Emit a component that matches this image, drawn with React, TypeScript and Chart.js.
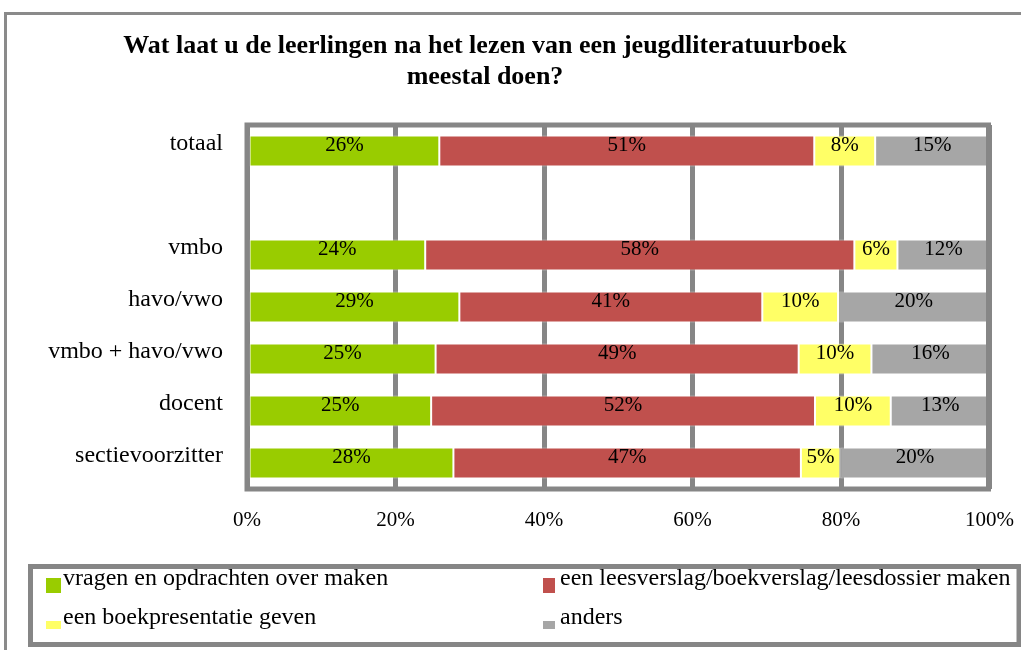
import React, { useEffect, useRef } from "react";
import { Chart, registerables } from "chart.js";

Chart.register(...registerables);

const titleLines = [
  "Wat laat u de leerlingen na het lezen van een jeugdliteratuurboek",
  "meestal doen?",
];
const categories = [
  "totaal",
  "",
  "vmbo",
  "havo/vwo",
  "vmbo + havo/vwo",
  "docent",
  "sectievoorzitter",
];
const seriesNames = [
  "vragen en opdrachten over maken",
  "een leesverslag/boekverslag/leesdossier maken",
  "een boekpresentatie geven",
  "anders",
];
const seriesColors = ["#99CC00", "#C0504D", "#FFFF66", "#A6A6A6"];
const vragen = [25.9, null, 24.0, 28.6, 25.4, 24.8, 27.8];
const leesverslag = [50.5, null, 57.8, 40.8, 48.9, 51.7, 46.8];
const boekpresentatie = [8.2, null, 5.8, 10.2, 9.8, 10.2, 5.3];
const anders = [15.4, null, 12.4, 20.4, 15.9, 13.3, 20.1];
const xTicks = [0, 20, 40, 60, 80, 100];

const FONT = "'Liberation Serif', 'Times New Roman', serif";
const GRID = "#868686";

const decorPlugin = {
  id: "decor",
  beforeDraw(chart: any) {
    const ctx = chart.ctx;
    ctx.save();
    ctx.fillStyle = "#ffffff";
    ctx.fillRect(0, 0, chart.width, chart.height);
    // outer border
    ctx.strokeStyle = "#8a8a8a";
    ctx.lineWidth = 3;
    ctx.strokeRect(5.5, 13.5, 1100, 700);
    // title
    ctx.fillStyle = "#000";
    ctx.font = `bold 26px ${FONT}`;
    ctx.textAlign = "center";
    ctx.textBaseline = "alphabetic";
    ctx.fillText(titleLines[0], 485, 53);
    ctx.fillText(titleLines[1], 485, 84);
    // legend box
    ctx.strokeStyle = GRID;
    ctx.lineWidth = 5;
    ctx.strokeRect(30.5, 566.5, 988.5, 78);
    const pos = [
      { mx: 46, my: 578, mw: 15, mh: 15, tx: 63, ty: 585 },
      { mx: 543, my: 578, mw: 12, mh: 15, tx: 560, ty: 585 },
      { mx: 46, my: 621, mw: 15, mh: 8, tx: 63, ty: 624 },
      { mx: 543, my: 621, mw: 12, mh: 8, tx: 560, ty: 624 },
    ];
    ctx.font = `24px ${FONT}`;
    ctx.textAlign = "left";
    chart.data.datasets.forEach((ds: any, i: number) => {
      const p = pos[i];
      ctx.fillStyle = ds.backgroundColor;
      ctx.fillRect(p.mx, p.my, p.mw, p.mh);
      ctx.fillStyle = "#000";
      ctx.fillText(ds.label, p.tx, p.ty);
    });
    ctx.restore();
  },
  afterDatasetsDraw(chart: any) {
    const ctx = chart.ctx;
    const a = chart.chartArea;
    ctx.save();
    ctx.strokeStyle = GRID;
    ctx.lineWidth = 5;
    ctx.strokeRect(a.left, a.top, a.right - a.left - 1, a.bottom - a.top);
    ctx.fillStyle = "#000";
    ctx.font = `21px ${FONT}`;
    ctx.textAlign = "center";
    ctx.textBaseline = "alphabetic";
    chart.data.datasets.forEach((ds: any, di: number) => {
      const meta = chart.getDatasetMeta(di);
      meta.data.forEach((el: any, i: number) => {
        const v = ds.data[i];
        if (v === null || v === undefined) return;
        const cx = (el.x + el.base) / 2;
        ctx.fillText(Math.round(v) + "%", cx, el.y - 0.5);
      });
    });
    ctx.restore();
  },
};

export default function App() {
  const ref = useRef<HTMLCanvasElement>(null);
  useEffect(() => {
    const canvas = ref.current;
    if (!canvas) return;
    const seriesData = [vragen, leesverslag, boekpresentatie, anders];
    const chart = new Chart(canvas, {
      type: "bar",
      data: {
        labels: categories,
        datasets: seriesNames.map((name, i) => ({
          label: name,
          data: seriesData[i],
          backgroundColor: seriesColors[i],
          borderColor: "rgba(255,255,255,0.55)",
          borderWidth: 1,
          borderSkipped: false,
          barPercentage: 0.6,
          categoryPercentage: 1,
        })),
      },
      options: {
        indexAxis: "y",
        responsive: false,
        animation: false,
        layout: { padding: { top: 125, right: 31.5, left: 0, bottom: 0 } },
        plugins: {
          legend: { display: false },
          title: { display: false },
          tooltip: { enabled: false },
        },
        scales: {
          x: {
            stacked: true,
            min: 0,
            max: 100,
            afterBuildTicks: (s: any) => {
              s.ticks = xTicks.map((v) => ({ value: v }));
            },
            ticks: {
              callback: (v: any) => v + "%",
              font: { family: FONT, size: 21 },
              color: "#000",
              padding: 19,
              maxRotation: 0,
              autoSkip: false,
            },
            grid: { color: GRID, lineWidth: 5, drawTicks: false },
            border: { display: false },
            afterFit: (s: any) => {
              s.height = 161;
              s.paddingLeft = 0;
              s.paddingRight = 0;
            },
          },
          y: {
            stacked: true,
            grid: { display: false, drawTicks: false },
            border: { display: false },
            ticks: {
              font: { family: FONT, size: 24 },
              color: "#000",
              padding: 24,
              labelOffset: -7,
              autoSkip: false,
            },
            afterFit: (s: any) => {
              s.width = 247;
              s.paddingTop = 0;
              s.paddingBottom = 0;
            },
          },
        },
      } as any,
      plugins: [decorPlugin],
    });
    return () => chart.destroy();
  }, []);
  return (
    <div style={{ position: "fixed", left: 0, top: 0, width: 1021, height: 650, background: "#fff" }}>
      <canvas ref={ref} width={1021} height={650} style={{ display: "block" }} />
    </div>
  );
}
